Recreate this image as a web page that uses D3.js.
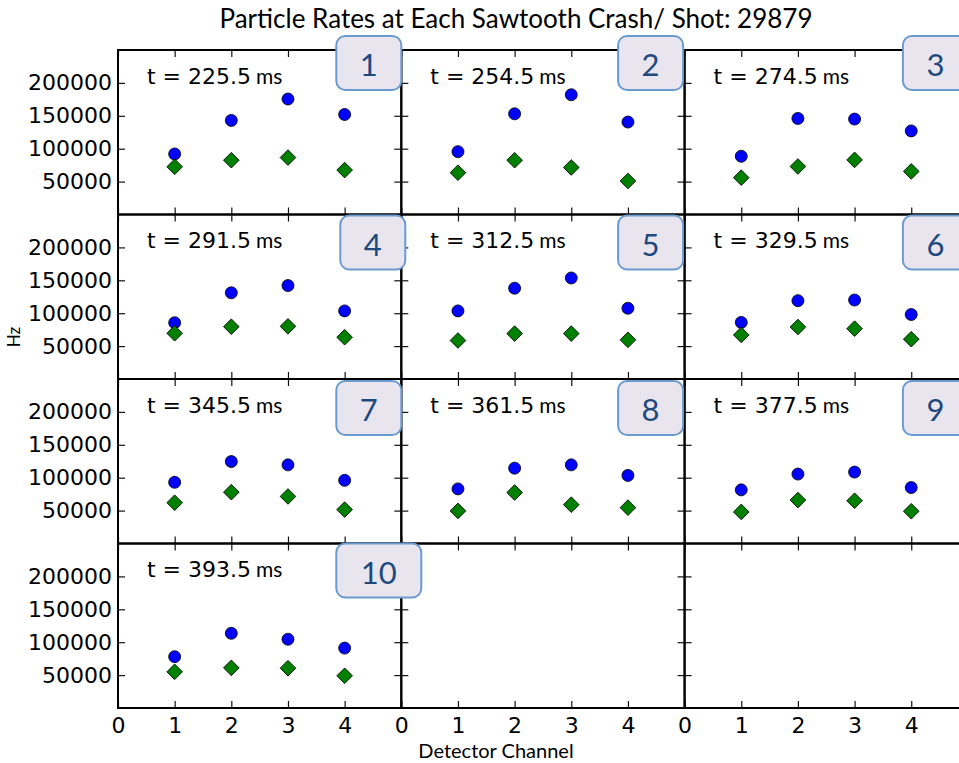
<!DOCTYPE html>
<html>
<head>
<meta charset="utf-8">
<script src="https://cdn.jsdelivr.net/npm/d3@7"></script>
<style>
  body { margin: 0; background: #fff; }
  svg { display: block; }
</style>
</head>
<body>
<div id="chart"></div>
<script>
// data
const channels = [1, 2, 3, 4];
const times = [225.5, 254.5, 274.5, 291.5, 312.5, 329.5, 345.5, 361.5, 377.5, 393.5];
const panelLabels = ['1', '2', '3', '4', '5', '6', '7', '8', '9', '10'];
const blueRates = [
  [92000, 143000, 175500, 152000],
  [95500, 153000, 182000, 140500],
  [88500, 146000, 145000, 127000],
  [85500, 131000, 142000, 103500],
  [103500, 138000, 153500, 107500],
  [86000, 119000, 120000, 98000],
  [93000, 124500, 119500, 96000],
  [83000, 114500, 119500, 103500],
  [81500, 105500, 108500, 85000],
  [78000, 113500, 104500, 91000]
];
const greenRates = [
  [72500, 82500, 86500, 67500],
  [63500, 82500, 71500, 51000],
  [56000, 73000, 83000, 65500],
  [69500, 79500, 80000, 63500],
  [58500, 69000, 69000, 59500],
  [67000, 79000, 76500, 60500],
  [62000, 78000, 71500, 51500],
  [49500, 77500, 59000, 54500],
  [48000, 66000, 65000, 49000],
  [55000, 61000, 60500, 49000]
];
const xTickValues = [0, 1, 2, 3, 4];
const yTickValues = [50000, 100000, 150000, 200000];

const width = 959;
const height = 763;
const margin = { left: 118, top: 50 };
const panelW = 283.3;
const panelH = 164.5;
const nCols = 3;
const nRows = 4;

// hand-placed overlay boxes (offset from panel's top-right corner)
const boxDx = [0, -1.5, 0, 4, -1.5, 0, 0, -1.5, 0, 0];
const boxDy = [-14, -14, -14, 1, 1, 1, 2, 2, 2, 0];

const svg = d3.select('#chart').append('svg')
  .attr('width', width)
  .attr('height', height);

const x = d3.scaleLinear().domain([0, 5]).range([0, panelW]);
const y = d3.scaleLinear().domain([0, 250000]).range([panelH, 0]);

const tickFont = '"DejaVu Sans", sans-serif';
const boxFont = 'Lato, sans-serif';

for (let r = 0; r < nRows; r++) {
  for (let c = 0; c < nCols; c++) {
    const idx = r * nCols + c;
    const g = svg.append('g')
      .attr('transform', 'translate(' + (margin.left + c * panelW) + ',' + (margin.top + r * panelH) + ')');

    // ticks on all four sides, pointing inward
    const bottom = d3.axisBottom(x).tickValues(xTickValues).tickSize(-7).tickPadding(9)
      .tickFormat(d3.format('d'));
    if (r !== nRows - 1) bottom.tickFormat('');
    const top = d3.axisTop(x).tickValues(xTickValues).tickSize(-7).tickFormat('');
    const left = d3.axisLeft(y).tickValues(yTickValues).tickSize(-7).tickPadding(6)
      .tickFormat(d3.format('d'));
    if (c !== 0) left.tickFormat('');
    const right = d3.axisRight(y).tickValues(yTickValues).tickSize(-7).tickFormat('');

    g.append('g').attr('transform', 'translate(0,' + panelH + ')').call(bottom)
      .selectAll('text').style('font-size', '22px');
    g.append('g').call(top);
    g.append('g').call(left)
      .selectAll('text').style('font-size', '22px');
    g.append('g').attr('transform', 'translate(' + panelW + ',0)').call(right);

    g.selectAll('.domain').remove();
    g.selectAll('.tick line').attr('stroke', '#111').attr('stroke-width', 1.2);
    g.selectAll('.tick text').attr('fill', '#000').style('font-family', tickFont);

    if (idx < times.length) {
      g.selectAll('circle.blue')
        .data(blueRates[idx])
        .enter().append('circle')
        .attr('class', 'blue')
        .attr('cx', (d, i) => x(channels[i]))
        .attr('cy', d => y(d))
        .attr('r', 6)
        .attr('fill', '#0000ff')
        .attr('stroke', '#000')
        .attr('stroke-width', 0.8);

      g.selectAll('path.green')
        .data(greenRates[idx])
        .enter().append('path')
        .attr('class', 'green')
        .attr('d', d3.symbol(d3.symbolSquare, 122)())
        .attr('transform', (d, i) => 'translate(' + x(channels[i]) + ',' + y(d) + ') rotate(45)')
        .attr('fill', '#008000')
        .attr('stroke', '#000')
        .attr('stroke-width', 0.8);

      const t = g.append('text')
        .attr('x', 29)
        .attr('y', 33.5)
        .style('font-family', tickFont)
        .style('font-size', '22px')
        .text('t = ' + times[idx]);
      const tEnd = 29 + t.node().getComputedTextLength();
      g.append('text')
        .attr('x', tEnd + 5)
        .attr('y', 33.5)
        .style('font-family', boxFont)
        .style('font-size', '21px')
        .text('ms');
    }

    // spine
    g.append('rect')
      .attr('width', panelW)
      .attr('height', panelH)
      .attr('fill', 'none')
      .attr('stroke', '#000')
      .attr('stroke-width', 2);
  }
}

// numbered overlay boxes
panelLabels.forEach((lab, idx) => {
  const r = Math.floor(idx / nCols);
  const c = idx % nCols;
  const bw = lab.length > 1 ? 85 : 65;
  const bx = margin.left + (c + 1) * panelW - 65 + boxDx[idx];
  const by = margin.top + r * panelH + boxDy[idx];
  svg.append('rect')
    .attr('x', bx)
    .attr('y', by)
    .attr('width', bw)
    .attr('height', 54)
    .attr('rx', 9)
    .attr('fill', '#e9e5ef')
    .attr('stroke', '#6a9bcf')
    .attr('stroke-width', 2);
  svg.append('text')
    .attr('x', bx + bw / 2)
    .attr('y', by + 28)
    .attr('text-anchor', 'middle')
    .attr('dominant-baseline', 'central')
    .style('font-family', boxFont)
    .style('font-size', '31px')
    .attr('fill', '#1f497d')
    .text(lab);
});

svg.append('text')
  .attr('x', 516)
  .attr('y', 28)
  .attr('text-anchor', 'middle')
  .style('font-family', boxFont)
  .style('font-size', '26px')
  .text('Particle Rates at Each Sawtooth Crash/ Shot: 29879');

svg.append('text')
  .attr('x', 496)
  .attr('y', 758)
  .attr('text-anchor', 'middle')
  .style('font-family', boxFont)
  .style('font-size', '20px')
  .text('Detector Channel');

svg.append('text')
  .attr('transform', 'translate(20,337) rotate(-90)')
  .attr('text-anchor', 'middle')
  .style('font-family', boxFont)
  .style('font-size', '17px')
  .text('Hz');
</script>
</body>
</html>
